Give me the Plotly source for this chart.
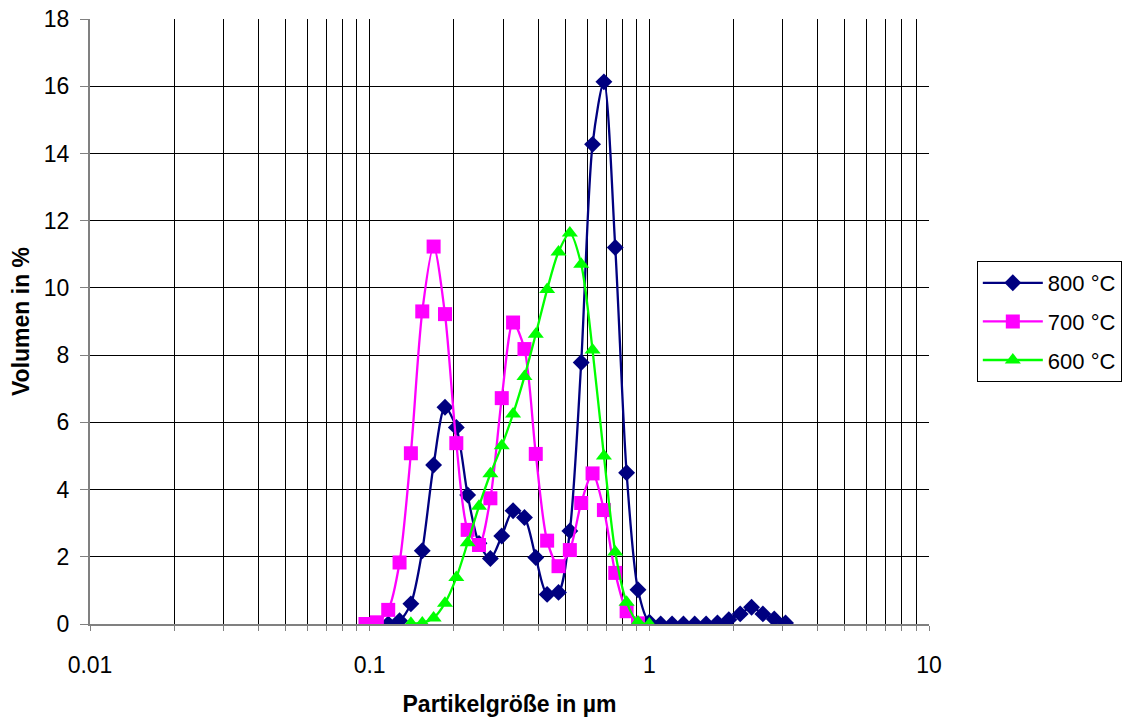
import plotly.graph_objects as go

# particle size bins (µm)
size_um = [0.0966, 0.1061, 0.1165, 0.1279, 0.1404, 0.1542, 0.1693, 0.1859, 0.2041, 0.2241,
           0.2460, 0.2702, 0.2967, 0.3257, 0.3577, 0.3926, 0.4311, 0.4734, 0.5197, 0.5707,
           0.6266, 0.6880, 0.7554, 0.8294, 0.9107, 1.0, 1.098, 1.206, 1.324, 1.453,
           1.596, 1.752, 1.924, 2.113, 2.320, 2.547, 2.797, 3.070]

# 800 °C : bins from 0.1165 to 3.070
x_800 = size_um[2:]
v_800 = [0.0, 0.1, 0.6, 2.18, 4.73, 6.45, 5.85, 3.84, 2.4, 1.95,
         2.62, 3.37, 3.17, 1.98, 0.88, 0.94, 2.77, 7.78, 14.27, 16.13,
         11.2, 4.5, 1.02, 0.05, 0.0, 0.0, 0.0, 0.0, 0.0, 0.03,
         0.13, 0.3, 0.5, 0.3, 0.15, 0.03]

# 700 °C : bins from 0.0966 to 0.9107
x_700 = size_um[0:25]
v_700 = [0.0, 0.05, 0.42, 1.83, 5.08, 9.3, 11.23, 9.22, 5.38, 2.8,
         2.35, 3.74, 6.72, 8.97, 8.18, 5.06, 2.48, 1.72, 2.2, 3.6,
         4.48, 3.39, 1.52, 0.38, 0.02]

# 600 °C : bins from 0.1404 to 1.0
x_600 = size_um[4:26]
v_600 = [0.02, 0.03, 0.18, 0.62, 1.38, 2.42, 3.5, 4.47, 5.3, 6.25,
         7.36, 8.62, 9.95, 11.07, 11.63, 10.7, 8.15, 5.0, 2.14, 0.65,
         0.06, 0.0]

series_names = ["800 °C", "700 °C", "600 °C"]
series_x = [x_800, x_700, x_600]
series_y = [v_800, v_700, v_600]
series_colors = ["#000080", "#FF00FF", "#00FF00"]
series_symbols = ["diamond", "square", "triangle-up"]
series_sizes = [13, 14, 14]

x_tickvals = [m * 10 ** e for e in (-2, -1, 0) for m in range(1, 10)] + [10]
decade_text = {0.01: "0.01", 0.1: "0.1", 1: "1", 10: "10"}
x_ticktext = [decade_text.get(v, "") for v in x_tickvals]
y_tickvals = list(range(0, 19, 2))

fig = go.Figure()
for name, xs, ys, col, sym, sz in zip(series_names, series_x, series_y,
                                      series_colors, series_symbols, series_sizes):
    fig.add_trace(go.Scatter(
        x=xs, y=ys, name=name, mode="lines+markers", legendgroup=name,
        line=dict(color=col, width=2.3, shape="spline", smoothing=0.8),
        marker=dict(color=col, symbol=sym, size=sz, line=dict(width=0)),
    ))

font_family = "Liberation Sans, Arial, sans-serif"
fig.update_layout(
    width=1125, height=717,
    margin=dict(l=90, r=196, t=19, b=93, autoexpand=False),
    paper_bgcolor="white", plot_bgcolor="white",
    font=dict(family=font_family, size=23, color="black"),
    showlegend=True,
    legend=dict(x=1.057, y=0.6, xanchor="left", yanchor="top",
                bordercolor="black", borderwidth=1, bgcolor="white",
                font=dict(size=22), tracegroupgap=7, itemwidth=60),
    xaxis=dict(type="log", range=[-2, 1], tickvals=x_tickvals, ticktext=x_ticktext,
               automargin=False,
               showgrid=True, gridcolor="black", gridwidth=1,
               showline=True, linecolor="#808080", linewidth=2,
               ticks="outside", ticklen=5, tickcolor="#808080",
               ticklabelstandoff=14,
               zeroline=False,
               title=dict(text="<b>Partikelgröße in µm</b>", font=dict(size=23), standoff=22)),
    yaxis=dict(range=[0, 18], tickvals=y_tickvals,
               automargin=False,
               showgrid=True, gridcolor="black", gridwidth=1,
               showline=True, linecolor="#808080", linewidth=2,
               ticks="outside", ticklen=8, tickcolor="#808080",
               ticklabelstandoff=6,
               zeroline=False,
               title=dict(text="<b>Volumen in %</b>", font=dict(size=23), standoff=8)),
)

fig.write_html("out.html")
